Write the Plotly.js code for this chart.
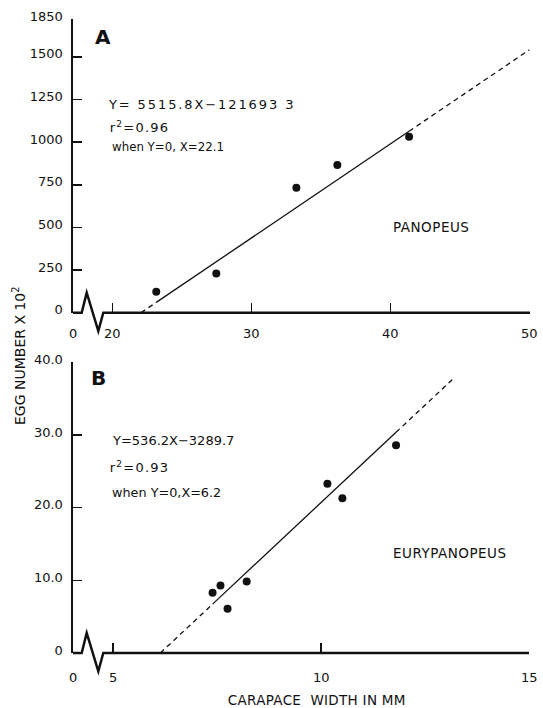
<!DOCTYPE html>
<html><head><meta charset="utf-8">
<script src="https://cdn.plot.ly/plotly-3.0.1.min.js"></script>
<style>
html,body{margin:0;padding:0;background:#fff}
#chart .annotation[data-index="2"] .annotation-text{letter-spacing:1.9px}
#chart .annotation[data-index="3"] .annotation-text,
#chart .annotation[data-index="7"] .annotation-text{letter-spacing:1.2px}
#chart .annotation[data-index="5"] .annotation-text,
#chart .annotation[data-index="9"] .annotation-text{letter-spacing:0.5px}
#chart .annotation[data-index="11"] .annotation-text{letter-spacing:0.3px}
</style>
</head><body><div id="chart" style="width:543px;height:708px"></div>
<script>
// ---- Panel A: Panopeus (carapace width mm, egg number x 10^2)
const panopeusWidth = [23.16, 27.48, 33.24, 36.19, 41.35];
const panopeusEggs  = [123, 230, 732, 866, 1032];
const panopeusSlope = 55.158;        // 5515.8 / 100
const panopeusIntercept = -1216.933; // -121693.3 / 100
const panopeusLineEnd = 50;

// ---- Panel B: Eurypanopeus
const euryWidth = [7.39, 7.58, 7.75, 8.21, 10.15, 10.51, 11.80];
const euryEggs  = [8.3, 9.3, 6.1, 9.85, 23.3, 21.3, 28.6];
const eurySlope = 5.362;             // 536.2 / 100
const euryIntercept = -32.897;       // -3289.7 / 100
const euryLineEnd = 13.15;

// ---- Tick labels
const aYTickVals = [0, 250, 500, 750, 1000, 1250, 1500, 1721];
const aYTickText = ['0', '250', '500', '750', '1000', '1250', '1500', '1850'];
const aXTickVals = [17.18, 20, 30, 40, 50];
const aXTickText = ['0', '20', '30', '40', '50'];
const bYTickVals = [0, 10, 20, 30, 40];
const bYTickText = ['0', '10.0', '20.0', '30.0', '40.0'];
const bXTickVals = [4.04, 5, 10, 15];
const bXTickText = ['0', '5', '10', '15'];

const INK = '#111';
const FONT = 'DejaVu Sans';

// pixel -> paper helpers (layout: 543x708, plot area x 73..530, y 19..653)
const L = 73, R = 13, T = 19, B = 55, W = 543, H = 708;
const PW = W - L - R, PH = H - T - B;
const px = v => (v - L) / PW;
const py = v => (H - B - v) / PH;

function fitSegments(xs, slope, icpt, end, xa, ya) {
  const x0 = -icpt / slope;
  const lo = Math.min(...xs), hi = Math.max(...xs);
  const f = x => slope * x + icpt;
  const seg = (a, b, dash) => ({
    x: [a, b], y: [f(a), f(b)], xaxis: xa, yaxis: ya, mode: 'lines',
    line: {color: INK, width: 1.3, dash: dash}, hoverinfo: 'skip', showlegend: false
  });
  return [seg(x0, lo, '5px,4px'), seg(lo, hi, 'solid'), seg(hi, end, '5px,4px')];
}

const traces = [
  ...fitSegments(panopeusWidth, panopeusSlope, panopeusIntercept, panopeusLineEnd, 'x', 'y'),
  {x: panopeusWidth, y: panopeusEggs, xaxis: 'x', yaxis: 'y', mode: 'markers',
   marker: {color: INK, size: 8}, showlegend: false},
  ...fitSegments(euryWidth, eurySlope, euryIntercept, euryLineEnd, 'x2', 'y2'),
  {x: euryWidth, y: euryEggs, xaxis: 'x2', yaxis: 'y2', mode: 'markers',
   marker: {color: INK, size: 8}, showlegend: false}
];

const tickFont = {family: FONT, size: 13, color: INK};
const xCommon = {showline: false, showgrid: false, zeroline: false, ticks: 'inside',
  ticklen: 10, tickwidth: 1.5, tickcolor: INK, tickfont: tickFont, fixedrange: true};
const yCommon = {showline: true, linewidth: 2.5, linecolor: INK, showgrid: false, zeroline: false,
  ticks: 'inside', ticklen: 9, tickwidth: 1.5, tickcolor: INK, tickfont: tickFont,
  ticklabelstandoff: 5, ticklabelshift: -3, fixedrange: true};

function baseline(yPix, xEnd) {
  const pts = [[73, yPix], [81.7, yPix], [86.7, yPix - 20], [98.3, yPix + 18.3], [103.3, yPix], [xEnd, yPix]];
  return {type: 'path', xref: 'paper', yref: 'paper',
    path: pts.map((p, i) => (i ? 'L' : 'M') + px(p[0]) + ',' + py(p[1])).join(' '),
    line: {color: INK, width: 2.5}};
}

function txt(text, x, y, size, anchor, extra) {
  return Object.assign({text: text, x: px(x), y: py(y), xref: 'paper', yref: 'paper',
    showarrow: false, xanchor: anchor || 'left', yanchor: 'middle',
    font: {family: FONT, size: size, color: INK}}, extra || {});
}

const layout = {
  width: W, height: H, margin: {l: L, r: R, t: T, b: B},
  paper_bgcolor: '#fff', plot_bgcolor: '#fff', showlegend: false,
  xaxis: Object.assign({}, xCommon, {domain: [0, 1], anchor: 'y', range: [17.17, 50.05],
    tickvals: aXTickVals, ticktext: aXTickText, ticklabelstandoff: 11}),
  yaxis: Object.assign({}, yCommon, {domain: [py(312.7), 1], anchor: 'x', range: [0, 1722],
    tickvals: aYTickVals, ticktext: aYTickText}),
  xaxis2: Object.assign({}, xCommon, {domain: [0, 1], anchor: 'y2', range: [4.035, 15.02],
    tickvals: bXTickVals, ticktext: bXTickText, ticklabelstandoff: 15}),
  yaxis2: Object.assign({}, yCommon, {domain: [0, py(362)], anchor: 'x2', range: [0, 40.05],
    tickvals: bYTickVals, ticktext: bYTickText}),
  shapes: [baseline(312.7, 530), baseline(653, 529)],
  annotations: [
    txt('<b>A</b>', 103, 37, 20, 'center'),
    txt('<b>B</b>', 98, 378, 20, 'center'),
    txt('Y= 5515.8X\u2212121693 3', 201, 104, 13, 'center'),
    txt('r<sup>2</sup>=0.96', 139, 126.7, 13, 'center'),
    txt('when Y=0, X=22.1', 110, 147, 11.8),
    txt('PANOPEUS', 431, 227, 13.5, 'center'),
    txt('Y=536.2X\u22123289.7', 110, 440, 13),
    txt('r<sup>2</sup>=0.93', 139, 467, 13, 'center'),
    txt('when Y=0,X=6.2', 110, 492, 12.8),
    txt('EURYPANOPEUS', 450, 553, 13.5, 'center'),
    txt('EGG NUMBER X 10<sup>2</sup>', 19, 356, 14, 'center', {textangle: -90}),
    txt('CARAPACE  WIDTH IN MM', 317, 700, 13.5, 'center')
  ]
};

Plotly.newPlot('chart', traces, layout, {staticPlot: true, displayModeBar: false});
</script></body></html>
